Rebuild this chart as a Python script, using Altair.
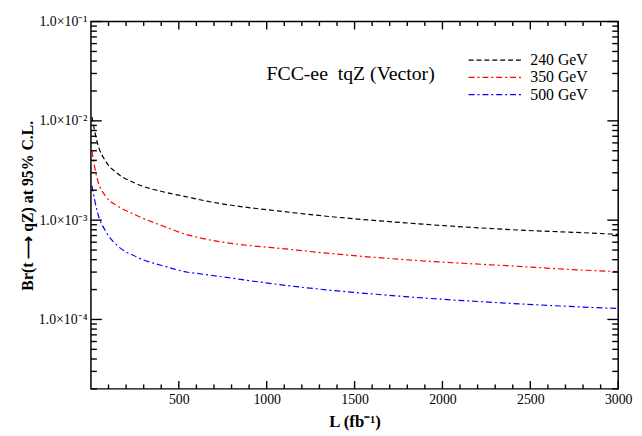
import altair as alt
import pandas as pd

# ---- data ----
L = [5.6, 34, 90, 146, 258, 427, 551, 596, 1169, 1787, 2365, 2949, 3000]
br_240 = [1.1e-2, 6.25e-3, 3.78e-3, 3.0e-3, 2.33e-3, 1.90e-3, 1.71e-3, 1.64e-3,
          1.18e-3, 9.4e-4, 8.07e-4, 7.26e-4, 7.18e-4]
br_350 = [4.97e-3, 2.68e-3, 1.69e-3, 1.41e-3, 1.12e-3, 8.5e-4, 7.1e-4, 6.78e-4,
          5.0e-4, 4.0e-4, 3.48e-4, 3.06e-4, 3.04e-4]
br_500 = [2.23e-3, 1.26e-3, 7.43e-4, 5.64e-4, 4.28e-4, 3.40e-4, 2.99e-4, 2.92e-4,
          2.14e-4, 1.70e-4, 1.46e-4, 1.30e-4, 1.29e-4]
series = ["240 GeV", "350 GeV", "500 GeV"]
colors = ["black", "red", "blue"]
dashes = [[5, 3], [6, 3, 2, 3], [6, 3, 2, 3]]

x_major = [500, 1000, 1500, 2000, 2500, 3000]
x_minor = [v for v in range(100, 3000, 100) if v % 500 != 0]
y_major = [1e-4, 1e-3, 1e-2, 1e-1]
y_major_labels = ["1.0×10⁻⁴", "1.0×10⁻³", "1.0×10⁻²", "1.0×10⁻¹"]
y_minor = [m * 10.0 ** e for e in (-5, -4, -3, -2) for m in range(2, 10)]
annotation = "FCC-ee\u00a0 tqZ (Vector)"

rows = []
for name, vals in zip(series, [br_240, br_350, br_500]):
    for l, v in zip(L, vals):
        rows.append({"L": l, "Br": v, "series": name})
df = pd.DataFrame(rows)

W, H = 534, 372
FONT = "Liberation Serif"
xscale = alt.Scale(domain=[0, 3000], nice=False, zero=False)
yscale = alt.Scale(type="log", domain=[2e-5, 1e-1], nice=False)

label_expr = " : ".join(
    [f"datum.value == {v} ? '{t}'" for v, t in zip(y_major, y_major_labels)] + ["''"]
)

x_axis = alt.Axis(
    orient="bottom", values=x_major, format="d", tickSize=0, domain=False, grid=False,
    labelFont=FONT, labelFontSize=14, labelColor="black", labelPadding=4,
    labelFlush=False,
    title="L (fb⁻¹)", titleFont=FONT, titleFontSize=17, titleFontWeight="bold",
    titleColor="black", titleY=25)
y_axis = alt.Axis(
    orient="left", values=y_major, labelExpr=label_expr, tickSize=0,
    domain=False, grid=False, labelFont=FONT, labelFontSize=14,
    labelColor="black", labelPadding=4, labelFlush=False,
    title="Br(t ⟶ qZ) at 95% C.L.", titleFont=FONT, titleFontSize=16,
    titleFontWeight="bold", titleColor="black", titleX=-64, titleY=H / 2,
    titleBaseline="middle", titleAlign="center", titleAngle=270)

leg = alt.Legend(
    title=None, orient="none", legendX=402, legendY=31, padding=0,
    symbolType="M-5,0H5", symbolSize=121, symbolStrokeWidth=1.2,
    labelFont=FONT, labelFontSize=16, labelColor="black", labelOffset=27,
    rowPadding=1.5,
)

lines = alt.Chart(df).mark_line(strokeWidth=1.2, clip=True, interpolate="monotone").encode(
    x=alt.X("L:Q", scale=xscale, axis=x_axis),
    y=alt.Y("Br:Q", scale=yscale, axis=y_axis),
    color=alt.Color("series:N", scale=alt.Scale(domain=series, range=colors), legend=leg),
    strokeDash=alt.StrokeDash("series:N", scale=alt.Scale(domain=series, range=dashes), legend=leg),
)

# inward tick marks on all four sides, positioned by the shared scales
xmaj = pd.DataFrame({"L": x_major})
xmin = pd.DataFrame({"L": x_minor})
ymaj = pd.DataFrame({"Br": y_major})
ymin = pd.DataFrame({"Br": y_minor})


def xticks(d, length, top):
    yc = length / 2 if top else H - length / 2
    return alt.Chart(d).mark_tick(color="black", size=length, thickness=1.4,
                                  orient="vertical", opacity=1).encode(
        x=alt.X("L:Q", scale=xscale, axis=x_axis), y=alt.value(yc))


def yticks(d, length, right):
    xc = W - length / 2 if right else length / 2
    return alt.Chart(d).mark_tick(color="black", size=length, thickness=1.4,
                                  orient="horizontal", opacity=1).encode(
        y=alt.Y("Br:Q", scale=yscale, axis=y_axis), x=alt.value(xc))


tick_layers = [
    xticks(xmaj, 8, False), xticks(xmin, 4.5, False),
    xticks(xmaj, 8, True), xticks(xmin, 4.5, True),
    yticks(ymaj, 11, False), yticks(ymin, 6, False),
    yticks(ymaj, 11, True), yticks(ymin, 6, True),
]

text = alt.Chart(pd.DataFrame({"t": [annotation]})).mark_text(
    font=FONT, fontSize=20, color="black", align="center", baseline="middle"
).encode(x=alt.value(263), y=alt.value(53), text="t:N")

chart = alt.layer(lines, *tick_layers, text).properties(
    width=W, height=H,
    autosize=alt.AutoSizeParams(type="none"),
    padding={"left": 84, "top": 11, "right": 16, "bottom": 45},
).configure_view(stroke="black", strokeWidth=1.5)

chart.save("out.html", embed_options={"renderer": "svg", "actions": False})
